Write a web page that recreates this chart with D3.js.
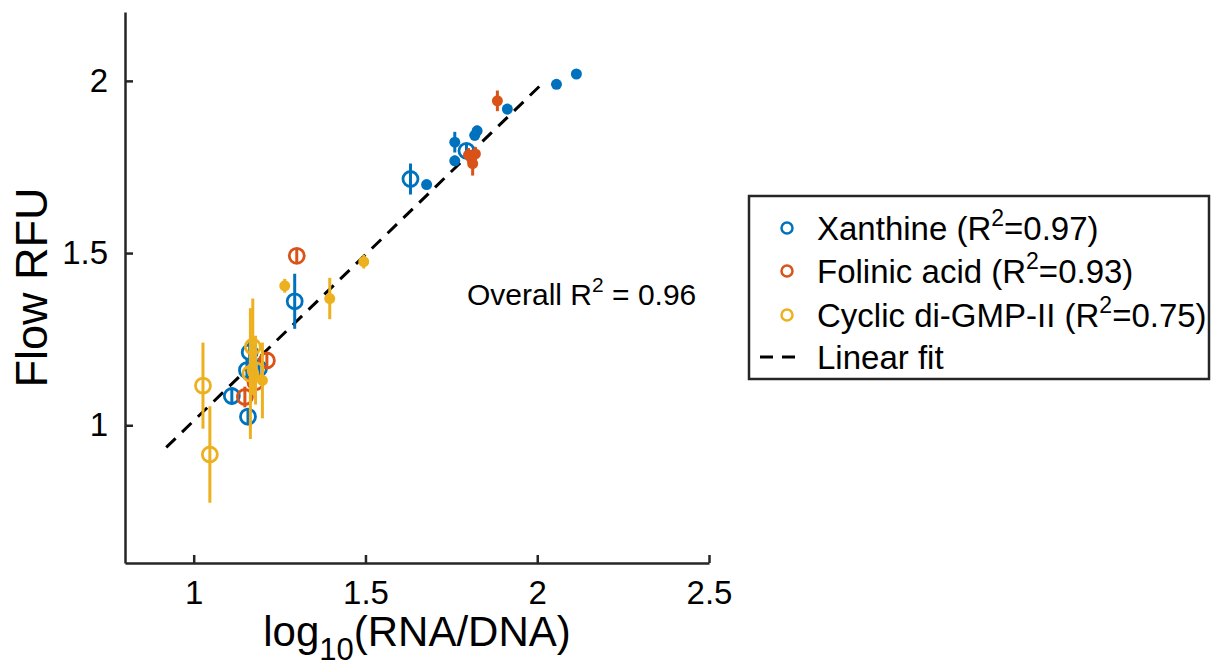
<!DOCTYPE html>
<html>
<head>
<meta charset="utf-8">
<script src="https://cdn.jsdelivr.net/npm/d3@7"></script>
<style>
  body { margin: 0; background: #fff; }
  text { font-family: "Liberation Sans", Arial, sans-serif; fill: #000; }
</style>
</head>
<body>
<div id="chart"></div>
<script>
// series: [log10(RNA/DNA), Flow RFU, error, filled?]
var xanthine = [
  [2.114, 2.020, 0.010, 1],
  [2.056, 1.990, 0.010, 1],
  [1.913, 1.918, 0.015, 1],
  [1.825, 1.855, 0.015, 1],
  [1.818, 1.842, 0.015, 1],
  [1.760, 1.822, 0.030, 1],
  [1.760, 1.768, 0.015, 1],
  [1.678, 1.699, 0.010, 1],
  [1.794, 1.797, 0.020, 0],
  [1.631, 1.715, 0.045, 0],
  [1.294, 1.360, 0.080, 0],
  [1.163, 1.212, 0.030, 0],
  [1.155, 1.160, 0.030, 0],
  [1.190, 1.165, 0.030, 0],
  [1.111, 1.085, 0.025, 0],
  [1.158, 1.025, 0.025, 0]
];
var folinic = [
  [1.884, 1.942, 0.030, 1],
  [1.800, 1.785, 0.020, 1],
  [1.820, 1.788, 0.020, 1],
  [1.812, 1.760, 0.035, 1],
  [1.808, 1.775, 0.020, 1],
  [1.300, 1.492, 0.020, 0],
  [1.213, 1.188, 0.020, 0],
  [1.149, 1.082, 0.030, 0],
  [1.180, 1.125, 0.020, 0]
];
var cdgmp = [
  [1.495, 1.475, 0.020, 1],
  [1.396, 1.368, 0.060, 1],
  [1.265, 1.405, 0.020, 1],
  [1.200, 1.130, 0.110, 1],
  [1.027, 1.115, 0.125, 0],
  [1.047, 0.915, 0.140, 0],
  [1.172, 1.228, 0.140, 0],
  [1.165, 1.150, 0.190, 0],
  [1.180, 1.160, 0.100, 0]
];

var seriesNames = ["Xanthine", "Folinic acid", "Cyclic di-GMP-II"];
var seriesR2 = ["0.97", "0.93", "0.75"];
var seriesColors = ["#0072BD", "#D95319", "#EDB120"];

var fitRange = [0.92, 2.02];
var fitSlope = 0.965, fitIntercept = 0.048;
var overallR2 = "0.96";

var xTicks = [1, 1.5, 2, 2.5];
var yTicks = [1, 1.5, 2];

var width = 1212, height = 672;
var margin = {left: 125, right: 503, top: 12, bottom: 109};

var svg = d3.select("#chart").append("svg")
  .attr("width", width)
  .attr("height", height);

var x = d3.scaleLinear().domain([0.8, 2.5]).range([margin.left, width - margin.right]);
var y = d3.scaleLinear().domain([0.6, 2.2]).range([height - margin.bottom, margin.top]);

// axes (MATLAB style, ticks inside)
var xAxis = svg.append("g")
  .attr("transform", "translate(0," + (height - margin.bottom) + ")")
  .call(d3.axisBottom(x).tickValues(xTicks).tickSizeInner(-8).tickSizeOuter(0).tickPadding(18).tickFormat(d3.format("")));
var yAxis = svg.append("g")
  .attr("transform", "translate(" + margin.left + ",0)")
  .call(d3.axisLeft(y).tickValues(yTicks).tickSizeInner(-8).tickSizeOuter(0).tickPadding(17).tickFormat(d3.format("")));

[xAxis, yAxis].forEach(function(a) {
  a.select(".domain").attr("stroke", "#262626").attr("stroke-width", 2.5);
  a.selectAll(".tick line").attr("stroke", "#262626").attr("stroke-width", 2.5);
  a.selectAll(".tick text").attr("font-size", 33).attr("fill", "#262626")
    .style("font-family", "'Liberation Sans', Arial, sans-serif");
});
xAxis.selectAll(".tick text").attr("dy", "0.71em");

// x axis label
var xl = svg.append("text")
  .attr("x", (x.range()[0] + x.range()[1]) / 2)
  .attr("y", 646)
  .attr("text-anchor", "middle")
  .attr("font-size", 42)
  .attr("fill", "#262626");
xl.append("tspan").text("log");
xl.append("tspan").attr("font-size", 31).attr("dy", 14).text("10");
xl.append("tspan").attr("dy", -14).text("(RNA/DNA)");

svg.append("text")
  .attr("transform", "translate(47," + ((y.range()[0] + y.range()[1]) / 2) + ") rotate(-90)")
  .attr("text-anchor", "middle")
  .attr("font-size", 45)
  .attr("fill", "#262626")
  .text("Flow RFU");

// fit line
svg.append("line")
  .attr("x1", x(fitRange[0])).attr("y1", y(fitSlope * fitRange[0] + fitIntercept))
  .attr("x2", x(fitRange[1])).attr("y2", y(fitSlope * fitRange[1] + fitIntercept))
  .attr("stroke", "#000")
  .attr("stroke-width", 3)
  .attr("stroke-dasharray", "13,9");

// points with error bars
var allSeries = [xanthine, folinic, cdgmp];
allSeries.forEach(function(data, i) {
  var c = seriesColors[i];
  var g = svg.append("g");
  g.selectAll(".err").data(data).join("line")
    .attr("x1", d => x(d[0])).attr("x2", d => x(d[0]))
    .attr("y1", d => y(d[1] - d[2])).attr("y2", d => y(d[1] + d[2]))
    .attr("stroke", c).attr("stroke-width", 3);
  g.selectAll(".pt").data(data).join("circle")
    .attr("cx", d => x(d[0])).attr("cy", d => y(d[1]))
    .attr("r", d => d[3] ? 5.5 : 7.5)
    .attr("fill", d => d[3] ? c : "none")
    .attr("stroke", c)
    .attr("stroke-width", d => d[3] ? 0 : 2.8);
});

// overall R2 text
var ot = svg.append("text")
  .attr("x", 467).attr("y", 305)
  .attr("font-size", 30);
ot.append("tspan").text("Overall R");
ot.append("tspan").attr("font-size", 21).attr("dy", -13).text("2");
ot.append("tspan").attr("dy", 13).text(" = " + overallR2);

// legend
var lg = svg.append("g");
lg.append("rect")
  .attr("x", 749).attr("y", 196).attr("width", 460).attr("height", 183)
  .attr("fill", "#fff").attr("stroke", "#262626").attr("stroke-width", 2.5);
var rowY = [228, 271, 315];
seriesNames.forEach(function(name, i) {
  lg.append("circle")
    .attr("cx", 787).attr("cy", rowY[i]).attr("r", 5.5)
    .attr("fill", "none").attr("stroke", seriesColors[i]).attr("stroke-width", 2.5);
  var t = lg.append("text").attr("x", 817).attr("y", rowY[i] + 12).attr("font-size", 33);
  t.append("tspan").text(name + " (R");
  t.append("tspan").attr("font-size", 23).attr("dy", -14).text("2");
  t.append("tspan").attr("dy", 14).text("=" + seriesR2[i] + ")");
});
lg.append("line")
  .attr("x1", 760).attr("x2", 802).attr("y1", 357).attr("y2", 357)
  .attr("stroke", "#000").attr("stroke-width", 3).attr("stroke-dasharray", "13,9");
lg.append("text").attr("x", 817).attr("y", 369).attr("font-size", 33).text("Linear fit");
</script>
</body>
</html>
